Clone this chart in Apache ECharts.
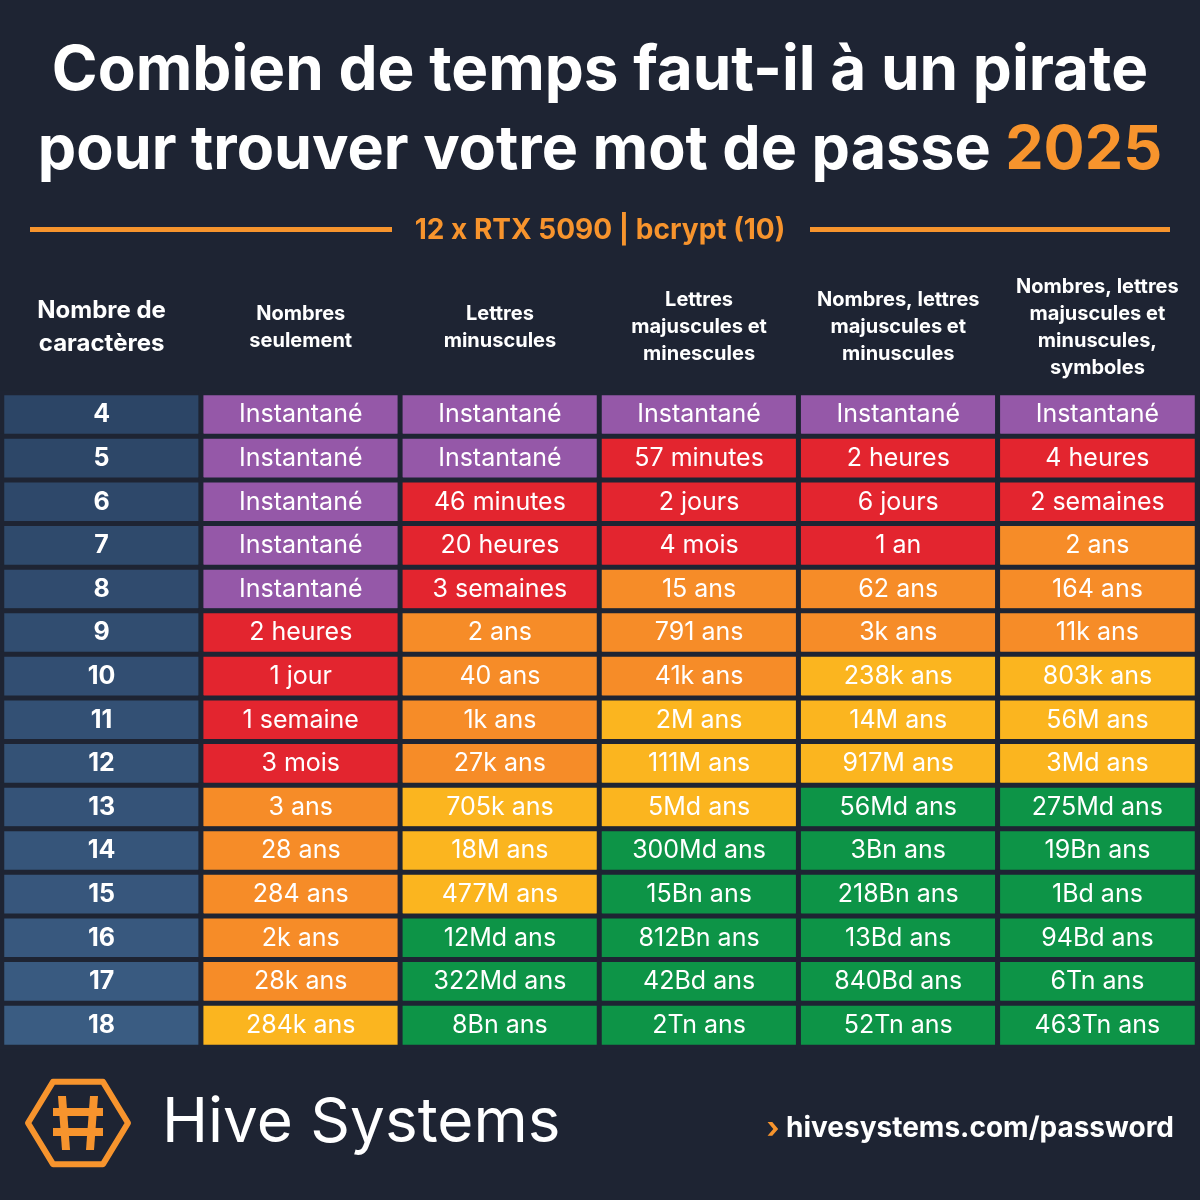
<!DOCTYPE html>
<html><head><meta charset="utf-8">
<script src="https://cdn.jsdelivr.net/npm/echarts@6/dist/echarts.min.js"></script>
<style>html,body{margin:0;background:#1e2433}#c{width:1200px;height:1200px}</style></head>
<body><div id="c"></div>
<script>
const columns = ['Nombre de\ncaractères','Nombres\nseulement','Lettres\nminuscules','Lettres\nmajuscules et\nminescules','Nombres, lettres\nmajuscules et\nminuscules','Nombres, lettres\nmajuscules et\nminuscules,\nsymboles'];
const rows = ['4','5','6','7','8','9','10','11','12','13','14','15','16','17','18'];
const times = [
 ['Instantané','Instantané','Instantané','Instantané','Instantané'],
 ['Instantané','Instantané','57 minutes','2 heures','4 heures'],
 ['Instantané','46 minutes','2 jours','6 jours','2 semaines'],
 ['Instantané','20 heures','4 mois','1 an','2 ans'],
 ['Instantané','3 semaines','15 ans','62 ans','164 ans'],
 ['2 heures','2 ans','791 ans','3k ans','11k ans'],
 ['1 jour','40 ans','41k ans','238k ans','803k ans'],
 ['1 semaine','1k ans','2M ans','14M ans','56M ans'],
 ['3 mois','27k ans','111M ans','917M ans','3Md ans'],
 ['3 ans','705k ans','5Md ans','56Md ans','275Md ans'],
 ['28 ans','18M ans','300Md ans','3Bn ans','19Bn ans'],
 ['284 ans','477M ans','15Bn ans','218Bn ans','1Bd ans'],
 ['2k ans','12Md ans','812Bn ans','13Bd ans','94Bd ans'],
 ['28k ans','322Md ans','42Bd ans','840Bd ans','6Tn ans'],
 ['284k ans','8Bn ans','2Tn ans','52Tn ans','463Tn ans']
];
// 0 instant, 1 red, 2 orange, 3 yellow, 4 green
const levels = [
 [0,0,0,0,0],[0,0,1,1,1],[0,1,1,1,1],[0,1,1,1,2],[0,1,2,2,2],
 [1,2,2,2,2],[1,2,2,3,3],[1,2,3,3,3],[1,2,3,3,3],[2,3,3,4,4],
 [2,3,4,4,4],[2,3,4,4,4],[2,4,4,4,4],[2,4,4,4,4],[3,4,4,4,4]
];
const palette = ['#9558a8','#e3252f','#f68c28','#fbb51f','#0d9447'];
const rowBlues = ['#2c4566','#2d4768','#2e486a','#2f4a6c','#304b6e','#314d70','#324e72','#335074','#345276','#355378','#36557a','#37567c','#38587e','#395a80','#3a5c82'];

const data = [];
rows.forEach((r,i)=>{
  data.push({value:[0,i,5],label:{formatter:r,fontWeight:'bold',fontSize:25},itemStyle:{color:rowBlues[i]}});
  times[i].forEach((t,j)=>{
    data.push({value:[j+1,i,levels[i][j]],label:{formatter:t},itemStyle:{color:palette[levels[i][j]]}});
  });
});

const chart = echarts.init(document.getElementById('c'));
const hx=78,hy=1123,R=50;
const hex=[];for(let k=0;k<6;k++){const a=Math.PI/3*k;hex.push([hx+R*Math.cos(a),hy+R*Math.sin(a)*0.95]);}
chart.setOption({
  backgroundColor:'#1e2433',
  textStyle:{fontFamily:'Inter'},
  grid:{left:2,right:3,top:393,bottom:153},
  xAxis:{type:'category',data:columns,position:'top',axisLine:{show:false},axisTick:{show:false},
    axisLabel:{color:'#fff',fontWeight:'bold',fontSize:20,lineHeight:27,margin:66,interval:0,verticalAlign:'middle',
      formatter:(v,i)=>i===0?v.split('\n').map(s=>'{b|'+s+'}').join('\n'):v,
      rich:{b:{fontSize:24,lineHeight:33,fontWeight:'bold',color:'#fff'}}}},
  yAxis:{type:'category',data:rows,inverse:true,show:false},
  series:[{type:'heatmap',data:data,
    itemStyle:{borderColor:'#1e2433',borderWidth:5},
    label:{show:true,color:'#fff',fontSize:25,fontFamily:'Inter'},
    emphasis:{disabled:true}}],
  graphic:[
    {type:'text',left:'center',top:40,style:{text:'Combien de temps faut-il à un pirate',fill:'#fff',font:'bold 62px Inter'}},
    {type:'text',left:'center',top:120,style:{text:'{w|pour trouver votre mot de passe }{o|2025}',rich:{w:{fill:'#fff',font:'bold 61px Inter'},o:{fill:'#f7942d',font:'bold 61px Inter'}}}},
    {type:'rect',shape:{x:30,y:227,width:362,height:5},style:{fill:'#f7942d'}},
    {type:'rect',shape:{x:810,y:227,width:360,height:5},style:{fill:'#f7942d'}},
    {type:'text',left:'center',top:217,style:{text:'12 x RTX 5090 | bcrypt (10)',fill:'#f7942d',font:'bold 28px Inter'}},
    {type:'polygon',shape:{points:hex},style:{fill:'none',stroke:'#f7942d',lineWidth:6,lineJoin:'round'}},
    {type:'rect',shape:{x:53,y:1108,width:50,height:8},style:{fill:'#f7942d'}},
    {type:'rect',shape:{x:53,y:1128,width:50,height:8},style:{fill:'#f7942d'}},
    {type:'polygon',shape:{points:[[58,1096],[66,1096],[70,1150],[62,1150]]},style:{fill:'#f7942d'}},
    {type:'polygon',shape:{points:[[90,1096],[98,1096],[94,1150],[86,1150]]},style:{fill:'#f7942d'}},
    {type:'text',left:162,top:1092,style:{text:'Hive Systems',fill:'#fff',font:'62px Inter'}},
    {type:'text',right:26,top:1114,style:{text:'{a|›} hivesystems.com/password',rich:{a:{fill:'#f7942d',font:'bold 30px Inter'}},fill:'#fff',font:'bold 28px Inter'}}
  ]
});
</script></body></html>
